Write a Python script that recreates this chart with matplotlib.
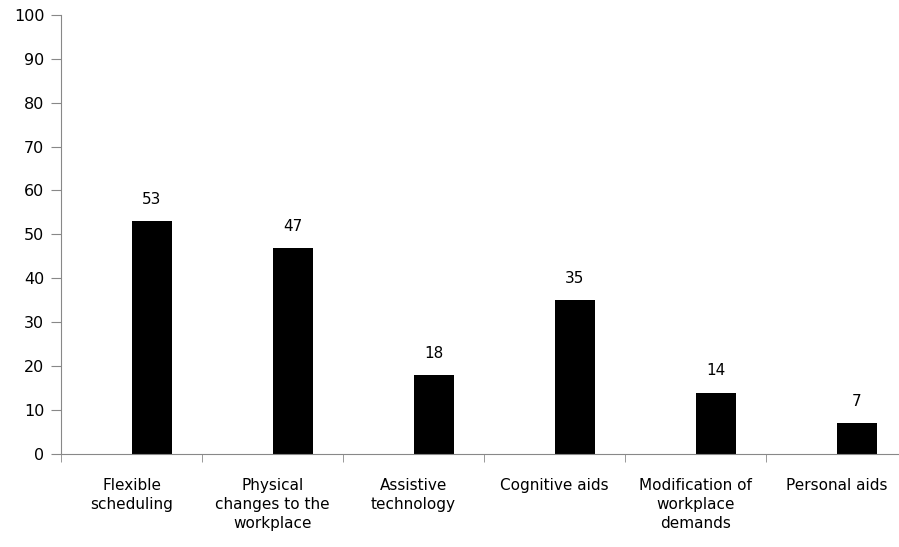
import numpy as np
from matplotlib import pyplot as plt

categories = ['Flexible\nscheduling', 'Physical\nchanges to the\nworkplace',
              'Assistive\ntechnology', 'Cognitive aids',
              'Modification of\nworkplace\ndemands', 'Personal aids']
values = [53, 47, 18, 35, 14, 7]
yticks = list(range(0, 101, 10))

fig = plt.figure(figsize=(8.99, 5.47), dpi=100)
# axis runs a little past the right edge, like the cropped original
ax = fig.add_axes([0.0679, 0.170, 0.941, 0.803])

x = np.arange(len(categories))
ax.bar(x + 0.145, values, width=0.29, color='black', clip_on=True)
for xi, v in zip(x, values):
    ax.text(xi + 0.145, v + 3.2, str(v), ha='center', va='bottom', fontsize=11)

ax.set_xlim(-0.5, len(categories) - 0.5)
ax.set_ylim(0, 100)
ax.set_yticks(yticks)
ax.set_xticks(x)
ax.set_xticklabels(categories, fontsize=11, va='top', linespacing=1.35)
ax.set_xticks(np.arange(-0.5, len(categories), 1), minor=True)
ax.tick_params(axis='x', which='major', length=0, pad=17)
ax.tick_params(axis='x', which='minor', length=6, color='#888888')
ax.tick_params(axis='y', length=7, color='#888888', labelsize=11.5, pad=5)

for s in ['top', 'right']:
    ax.spines[s].set_visible(False)
ax.spines['left'].set_color('#888888')
ax.spines['bottom'].set_color('#888888')

plt.savefig('out.png')
plt.close()
